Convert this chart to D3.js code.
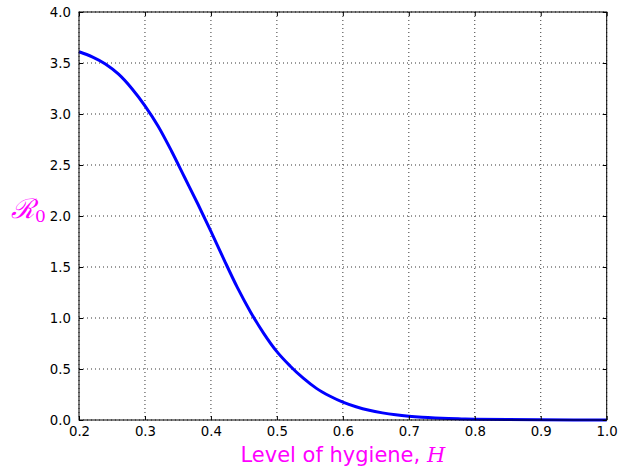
<!DOCTYPE html>
<html><head><meta charset="utf-8">
<script src="https://cdn.jsdelivr.net/npm/d3@7"></script>
<style>body{margin:0;background:#fff;}svg{display:block;}</style>
</head><body>
<script>
const hygiene = [0.20,0.22,0.24,0.26,0.28,0.30,0.32,0.34,0.36,0.38,0.40,0.42,0.44,0.46,0.48,0.50,0.52,0.54,0.56,0.58,0.60,0.62,0.64,0.66,0.68,0.70,0.72,0.74,0.76,0.78,0.80,0.85,0.90,0.95,1.00];
const r0 = [3.61,3.56,3.49,3.39,3.25,3.08,2.88,2.64,2.38,2.12,1.85,1.57,1.30,1.06,0.85,0.67,0.53,0.41,0.31,0.235,0.175,0.13,0.095,0.07,0.051,0.037,0.027,0.02,0.015,0.011,0.008,0.004,0.002,0.001,0.0005];
const xTicks = [0.2,0.3,0.4,0.5,0.6,0.7,0.8,0.9,1.0];
const yTicks = [0.0,0.5,1.0,1.5,2.0,2.5,3.0,3.5,4.0];

const W=622,H=472;
const L=79,R=606.7,T=12,B=420;
const svg=d3.select("body").append("svg").attr("width",W).attr("height",H);
const x=d3.scaleLinear().domain([0.2,1.0]).range([L,R]);
const y=d3.scaleLinear().domain([0,4]).range([B,T]);
const font="DejaVu Sans";

// grid
const g=svg.append("g");
g.selectAll(".vx").data(xTicks).enter().append("line")
 .attr("x1",d=>x(d)).attr("x2",d=>x(d)).attr("y1",T).attr("y2",B)
 .attr("stroke","#000").attr("stroke-width",0.8).attr("stroke-dasharray","1,3");
g.selectAll(".hy").data(yTicks).enter().append("line")
 .attr("y1",d=>y(d)).attr("y2",d=>y(d)).attr("x1",L).attr("x2",R)
 .attr("stroke","#000").attr("stroke-width",0.8).attr("stroke-dasharray","1,3");

// curve
const line=d3.line().x((d,i)=>x(hygiene[i])).y(d=>y(d)).curve(d3.curveMonotoneX);
svg.append("path").datum(r0).attr("d",line).attr("fill","none")
 .attr("stroke","#0000ff").attr("stroke-width",3);

// axes (inward ticks on all sides)
const ax=(a)=>a.tickSizeInner(-4).tickSizeOuter(0).tickPadding(7);
const xb=svg.append("g").attr("transform",`translate(0,${B})`).call(ax(d3.axisBottom(x).tickValues(xTicks).tickFormat(d3.format(".1f"))));
const xt=svg.append("g").attr("transform",`translate(0,${T})`).call(ax(d3.axisTop(x).tickValues(xTicks).tickFormat("")));
const yl=svg.append("g").attr("transform",`translate(${L},0)`).call(ax(d3.axisLeft(y).tickValues(yTicks).tickFormat(d3.format(".1f"))));
const yr=svg.append("g").attr("transform",`translate(${R},0)`).call(ax(d3.axisRight(y).tickValues(yTicks).tickFormat("")));
[xb,xt,yl,yr].forEach(a=>{
 a.selectAll(".domain").remove();
 a.selectAll("line").attr("stroke","#000").attr("stroke-width",1);
 a.selectAll("text").attr("font-family",font).attr("font-size","13.3px").attr("fill","#000");
});
xb.selectAll("text").attr("dy","0.71em");
yl.selectAll("text").attr("dx","-1");
svg.append("rect").attr("x",L).attr("y",T).attr("width",R-L).attr("height",B-T)
 .attr("fill","none").attr("stroke","#000").attr("stroke-width",1);

// labels
const xl=svg.append("text").attr("x",(L+R)/2).attr("y",462).attr("text-anchor","middle")
 .attr("font-family",font).attr("font-size","21px").attr("fill","#ff00ff");
xl.append("tspan").text("Level of hygiene, ");
xl.append("tspan").attr("font-family","DejaVu Serif").attr("font-style","italic").text("H");

const yL=svg.append("text").attr("x",11).attr("y",218)
 .attr("font-family","DejaVu Serif").attr("font-size","27px").attr("fill","#ff00ff");
yL.append("tspan").attr("font-style","italic").text("ℛ");
yL.append("tspan").attr("font-size","17px").attr("dy","4").text("0");
</script>
</body></html>
